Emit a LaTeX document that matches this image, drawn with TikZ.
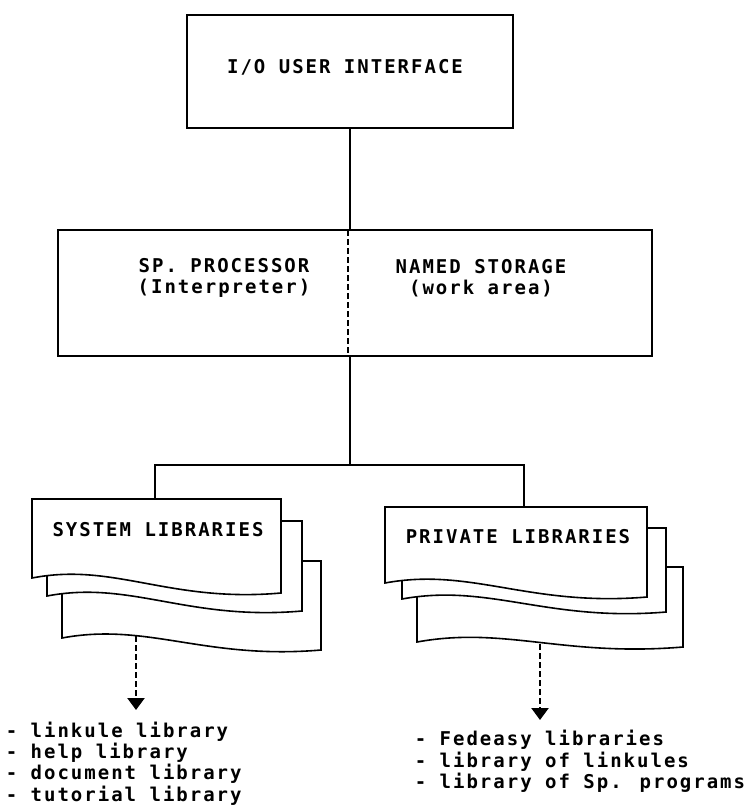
\documentclass[tikz,border=0pt]{standalone}
\usepackage{fontspec}
\newfontfamily\pf[LetterSpace=10.5]{DejaVu Sans Mono}
\usetikzlibrary{arrows.meta}
\newcommand\docsheet[5]{%
  \path[sheet] (#1,#2) -- (#3,#2) -- (#3,#5)
    .. controls ({#3-0.45*(#3-#1)},#5+10) and ({#1+0.33*(#3-#1)},#4-16) .. (#1,#4) -- cycle;}
\begin{document}
\begin{tikzpicture}[x=1pt,y=-1pt,line width=1.6pt,
  boxnode/.style={draw,rectangle,inner sep=0pt,line width=1.8pt},
  lbl/.style={font=\pf\bfseries\fontsize{19}{21.5}\selectfont,inner sep=0pt,align=center},
  listlbl/.style={font=\pf\bfseries\fontsize{19}{21.4}\selectfont,inner sep=0pt,align=left,anchor=west},
  sheet/.style={draw,fill=white,line width=1.6pt,line join=miter},
  conn/.style={line width=1.6pt},
  divider/.style={dash pattern=on 6pt off 3pt,line width=1.6pt},
  dasharrow/.style={dash pattern=on 6pt off 3pt,line width=2.4pt,-{Triangle[width=17pt,length=12pt]}}]
\useasboundingbox (0,0) rectangle (752,807);

% top box
\node[boxnode,minimum width=326pt,minimum height=113pt] (io) at (350,71.5) {};
\node[lbl] (iot) at (345,67) {I/O USER INTERFACE};

% middle box
\node[boxnode,minimum width=594pt,minimum height=126pt] (mid) at (355,293) {};
\coordinate (divtop) at (348,230);
\coordinate (divbot) at (348,356);
\draw[divider] (divtop) -- (divbot);
\node[lbl] (proc) at (224,278) {SP. PROCESSOR\\(Interpreter)};
\node[lbl] (stor) at (481,278) {NAMED STORAGE\\(work area)};

% connectors
\draw[conn] (io.south) -- (io.south |- mid.north);
\coordinate (j) at (350,465);
\coordinate (sysTop) at (155,499);
\coordinate (privTop) at (524,507);
\draw[conn] (mid.south -| io.south) -- (j);
\draw[conn] (sysTop) |- (j) -| (privTop);

% system libraries stack
\docsheet{62}{561}{321}{638}{650}
\docsheet{47}{521}{302}{596}{611}
\docsheet{32}{499}{281}{578}{593}
\node[lbl] (sys) at (158,530) {SYSTEM LIBRARIES};

% private libraries stack
\docsheet{417}{567}{683}{642}{647}
\docsheet{402}{528}{666}{599}{612}
\docsheet{385}{507}{647}{583}{597}
\node[lbl] (priv) at (518,537) {PRIVATE LIBRARIES};

% arrows
\coordinate (sysBot) at (136,636);
\coordinate (sysTip) at (136,710);
\coordinate (privBot) at (540,644);
\coordinate (privTip) at (540,720);
\draw[dasharrow] (sysBot) -- (sysTip);
\draw[dasharrow] (privBot) -- (privTip);

% lists
\node[listlbl] (syslist) at (5,763.5) {- linkule library\\- help library\\- document library\\- tutorial library};
\node[listlbl] (privlist) at (414,761.5) {- Fedeasy libraries\\- library of linkules\\- library of Sp. programs};
\end{tikzpicture}
\end{document}
